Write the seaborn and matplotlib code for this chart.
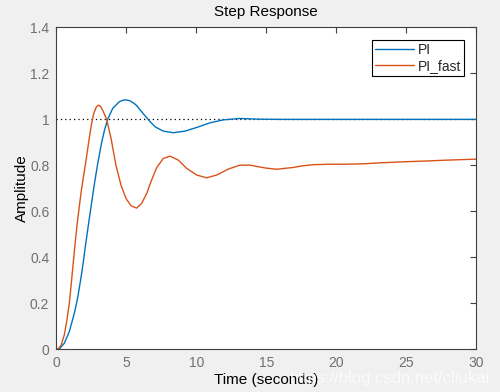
import numpy as np
import pandas as pd
import matplotlib
matplotlib.use("Agg")
import matplotlib.pyplot as plt
import seaborn as sns

t_pi = [0, 0.2, 0.57, 0.93, 1.29, 1.52, 1.76, 1.93, 2.07, 2.29, 2.48, 2.71, 2.95, 3.24, 3.45,
        3.67, 4.03, 4.5, 4.75, 4.98, 5.26, 5.57, 5.74, 6.21, 6.57, 7.05, 7.64, 8.36, 9.19,
        10.03, 10.98, 11.93, 13.12, 14.43, 16, 20, 25, 30]
y_pi = [0, 0.0, 0.026, 0.077, 0.157, 0.222, 0.31, 0.38, 0.445, 0.54, 0.62, 0.715, 0.805, 0.9,
        0.955, 1.0, 1.048, 1.077, 1.083, 1.085, 1.081, 1.069, 1.06, 1.025, 0.999, 0.968, 0.949,
        0.942, 0.949, 0.965, 0.985, 0.998, 1.004, 1.001, 1.0, 1.0, 1.0, 1.0]

t_fast = [0, 0.1, 0.34, 0.57, 0.76, 0.93, 1.1, 1.24, 1.36, 1.5, 1.65, 1.8, 1.95, 2.12, 2.31,
          2.5, 2.67, 2.85, 3.0, 3.15, 3.31, 3.6, 3.91, 4.26, 4.62, 4.98, 5.34, 5.74, 6.1, 6.46,
          6.81, 7.17, 7.64, 8.12, 8.71, 9.31, 10.03, 10.74, 11.46, 12.29, 13.12, 13.84, 14.43,
          15.0, 15.74, 16.93, 17.6, 18.36, 19.5, 20.74, 22.0, 23.12, 25.0, 26.45, 28.0, 30]
y_fast = [0, 0.0, 0.017, 0.062, 0.127, 0.2, 0.305, 0.395, 0.47, 0.55, 0.625, 0.695, 0.755,
          0.82, 0.9, 0.975, 1.025, 1.053, 1.062, 1.057, 1.04, 1.0, 0.917, 0.801, 0.714, 0.656,
          0.624, 0.614, 0.635, 0.678, 0.737, 0.79, 0.830, 0.840, 0.823, 0.787, 0.758, 0.746,
          0.758, 0.784, 0.801, 0.801, 0.794, 0.788, 0.783, 0.791, 0.798, 0.803, 0.805, 0.805,
          0.807, 0.811, 0.816, 0.819, 0.823, 0.827]

x_ticks = [0, 5, 10, 15, 20, 25, 30]
y_ticks = [0, 0.2, 0.4, 0.6, 0.8, 1.0, 1.2, 1.4]
y_tick_labels = ["0", "0.2", "0.4", "0.6", "0.8", "1", "1.2", "1.4"]

sns.set_style("white")
plt.rcParams["font.family"] = ["Liberation Sans", "DejaVu Sans"]

fig = plt.figure(figsize=(5, 3.92), dpi=100, facecolor="#f0f0f0")
ax = fig.add_axes([0.1126, 0.109, 0.84, 0.821])
ax.set_facecolor("white")

df_pi = pd.DataFrame({"t": t_pi, "y": y_pi})
df_fast = pd.DataFrame({"t": t_fast, "y": y_fast})

sns.lineplot(data=df_pi, x="t", y="y", ax=ax, color="#0072BD", linewidth=1.0,
             label="PI", sort=False, estimator=None)
sns.lineplot(data=df_fast, x="t", y="y", ax=ax, color="#D95319", linewidth=1.0,
             label="PI_fast", sort=False, estimator=None)

# steady state reference
ax.axhline(1.0, color="black", linestyle=(0, (1, 2.5)), linewidth=0.9, zorder=1)

ax.set_xlim(0, 30)
ax.set_ylim(0, 1.4)
ax.set_xticks(x_ticks)
ax.set_yticks(y_ticks)
ax.set_yticklabels(y_tick_labels)

for s in ax.spines.values():
    s.set_color("#404040")
    s.set_linewidth(0.8)
ax.tick_params(direction="in", length=4, width=0.8, color="#404040",
               labelcolor="#707070", labelsize=10, top=True, right=True, pad=5)

ax.set_title("Step Response", fontsize=11, color="black", pad=8)
ax.set_xlabel("Time (seconds)", fontsize=11, color="black", labelpad=2)
ax.set_ylabel("Amplitude", fontsize=11, color="black", labelpad=1)

leg = ax.legend(loc="upper right", fontsize=10, frameon=True, fancybox=False,
                framealpha=1, edgecolor="black", handlelength=2.8, handletextpad=0.3,
                borderpad=0.2, labelspacing=0.15, borderaxespad=0,
                bbox_to_anchor=(0.9714, 0.9606))
leg.get_frame().set_linewidth(0.8)

fig.text(0.98, 0.035, "https://blog.csdn.net/cliukai", ha="right", va="center",
         fontsize=12, color="white", alpha=0.75)

fig.savefig("out.png", dpi=100, facecolor=fig.get_facecolor())
